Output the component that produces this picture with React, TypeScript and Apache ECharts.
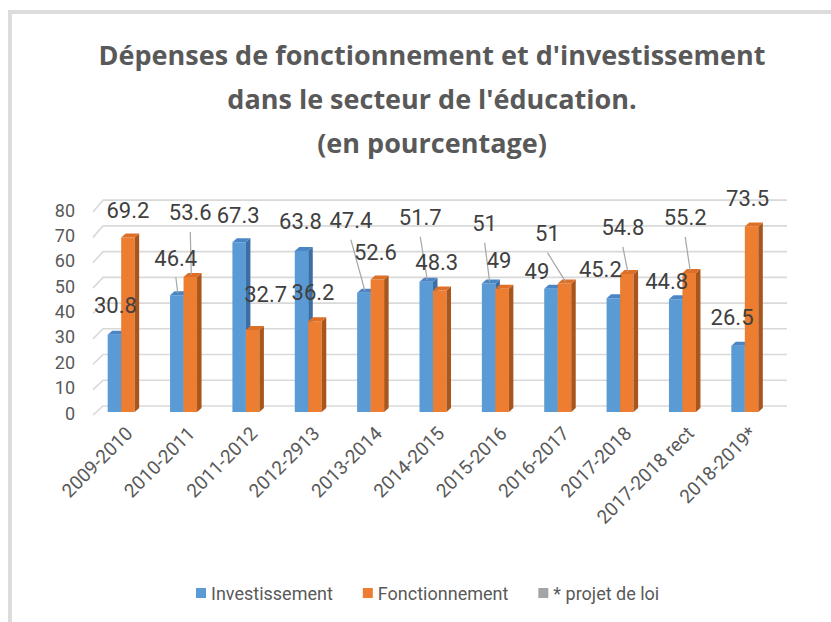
import React, { useEffect, useRef } from "react";
import * as echarts from "echarts";

const categories = [
  "2009-2010", "2010-2011", "2011-2012", "2012-2913", "2013-2014", "2014-2015",
  "2015-2016", "2016-2017", "2017-2018", "2017-2018 rect", "2018-2019*",
];
const investissement = [30.8, 46.4, 67.3, 63.8, 47.4, 51.7, 51, 49, 45.2, 44.8, 26.5];
const fonctionnement = [69.2, 53.6, 32.7, 36.2, 52.6, 48.3, 49, 51, 54.8, 55.2, 73.5];
const yTicks = [0, 10, 20, 30, 40, 50, 60, 70, 80];
const seriesNames = ["Investissement", "Fonctionnement", "* projet de loi"];

// label placement (layout only): offset from bar top centre, and leader line flags
const invLabelOffsets = [[1, -29], [-1, -37], [-1, -27], [-1, -30], [-13, -72], [-6, -64], [-4, -60], [-14, -17], [-13, -29], [-9, -18], [-6, -28]];
const fonLabelOffsets = [[0, -27], [0, -64], [13, -36], [-2, -29], [-2, -27], [-3, -28], [-3, -28], [-17, -50], [-4, -46], [-4, -55], [-4, -28]];
const invLeaders = [false, true, false, false, true, true, true, false, false, false, false];
const fonLeaders = [false, true, false, false, false, false, false, true, true, true, false];

const BAR_W = 13.5;
const DX = 4.5;
const DY = -4;

function barRenderer(side: number, front: string, top: string, sideCol: string, offsets: number[][], leaders: boolean[]) {
  return (params: any, api: any) => {
    const i = api.value(0);
    const v = api.value(1);
    const base = api.coord([i, 0]);
    const tp = api.coord([i, v]);
    const x0 = side < 0 ? base[0] - BAR_W : base[0];
    const x1 = x0 + BAR_W;
    const yT = tp[1];
    const yB = base[1] - 1;
    const cx = (x0 + x1) / 2;
    const off = offsets[params.dataIndex];
    const lx = cx + off[0];
    const ly = yT + off[1];
    const children: any[] = [
      { type: "rect", shape: { x: x0, y: yT, width: BAR_W, height: yB - yT }, style: { fill: front } },
      { type: "polygon", shape: { points: [[x1, yT], [x1 + DX, yT + DY], [x1 + DX, yB + DY], [x1, yB]] }, style: { fill: sideCol } },
      { type: "polygon", shape: { points: [[x0, yT], [x0 + DX, yT + DY], [x1 + DX, yT + DY], [x1, yT]] }, style: { fill: top } },
      {
        type: "text", z2: 200,
        style: { text: String(v), x: lx, y: ly, align: "center", verticalAlign: "middle", fill: "#404040", fontSize: 22, fontFamily: "Roboto" },
      },
    ];
    if (leaders[params.dataIndex]) {
      children.push({
        type: "line", z2: 150,
        shape: { x1: lx, y1: ly + 19, x2: cx + 1, y2: yT - 2 },
        style: { stroke: "#A6A6A6", lineWidth: 1.2 },
      });
    }
    return { type: "group", children };
  };
}

export default function App() {
  const ref = useRef<HTMLDivElement>(null);
  useEffect(() => {
    const chart = echarts.init(ref.current!, null, { renderer: "svg" });
    const option: any = {
      animation: false,
      backgroundColor: "#ffffff",
      title: {
        text: "Dépenses de fonctionnement et d'investissement\ndans le secteur de l'éducation.\n(en pourcentage)",
        left: 427,
        textAlign: "center",
        top: 27,
        textStyle: { fontFamily: "Open Sans", fontWeight: "bold", fontSize: 27, color: "#595959", lineHeight: 44 },
      },
      legend: {
        data: seriesNames,
        left: 191,
        top: 579,
        icon: "rect",
        itemWidth: 10,
        itemHeight: 10,
        itemGap: 30,
        itemStyle: {},
        textStyle: { fontFamily: "Roboto", fontSize: 18, color: "#595959" },
      },
      graphic: [
        { type: "rect", shape: { x: 8, y: 10, width: 823, height: 4 }, style: { fill: "#DCDCDC" } },
        { type: "rect", shape: { x: 8, y: 10, width: 4, height: 612 }, style: { fill: "#DCDCDC" } },
      ],
      grid: [
        { left: 90, right: 55, top: 210, bottom: 209 },
        { left: 98, right: 47, top: 210, bottom: 209 },
      ],
      xAxis: [
        { type: "category", data: categories, gridIndex: 0, axisLine: { show: false }, axisTick: { show: false }, axisLabel: { show: false } },
        {
          type: "category", data: categories, gridIndex: 1, axisLine: { show: false }, axisTick: { show: false },
          axisLabel: { rotate: 45, margin: 17, fontSize: 19, color: "#595959", fontFamily: "Roboto", interval: 0 },
        },
      ],
      yAxis: [
        {
          type: "value", gridIndex: 0, min: 0, max: 80, interval: 10,
          axisLine: { show: false }, axisTick: { show: false }, splitLine: { show: false },
          axisLabel: { margin: 15, fontSize: 18, color: "#595959", fontFamily: "Roboto", padding: [4, 0, 0, 0] },
        },
        { type: "value", gridIndex: 1, min: 0, max: 80, show: false },
      ],
      series: [
        {
          type: "custom", name: "grid", z: 1, silent: true,
          xAxisIndex: 0, yAxisIndex: 0,
          data: yTicks.map((t) => [0, t]),
          renderItem: (params: any, api: any) => {
            const v = api.value(1);
            const band = api.size([1, 0])[0];
            const left = api.coord([0, 0])[0] - band / 2;
            const right = api.coord([categories.length - 1, 0])[0] + band / 2;
            const base0 = api.coord([0, 0])[1];
            const yv = api.coord([0, v])[1];
            const yF = yv + 2;
            const yBk = base0 - 7 - (base0 - yv) * 1.014;
            return {
              type: "polyline",
              shape: { points: [[left + 3, yF], [left + 13, yBk], [right + 11, yBk]] },
              style: { stroke: "#D9D9D9", lineWidth: 1.6, fill: "none" },
            };
          },
        },
        {
          type: "custom", name: seriesNames[0], z: 2,
          itemStyle: { color: "#5B9BD5" },
          data: investissement.map((v, i) => [i, v]),
          renderItem: barRenderer(-1, "#5B9BD5", "#4A86C5", "#3B6EA5", invLabelOffsets, invLeaders),
        },
        {
          type: "custom", name: seriesNames[1], z: 2,
          itemStyle: { color: "#ED7D31" },
          data: fonctionnement.map((v, i) => [i, v]),
          renderItem: barRenderer(1, "#ED7D31", "#DD6F26", "#A9561D", fonLabelOffsets, fonLeaders),
        },
        {
          type: "custom", name: seriesNames[2], z: 2,
          itemStyle: { color: "#A5A5A5" },
          data: [],
          renderItem: () => ({ type: "group", children: [] }),
        },
      ],
    };
    chart.setOption(option);
    return () => chart.dispose();
  }, []);
  return <div ref={ref} style={{ position: "fixed", left: 0, top: 0, width: 831, height: 622 }} />;
}
